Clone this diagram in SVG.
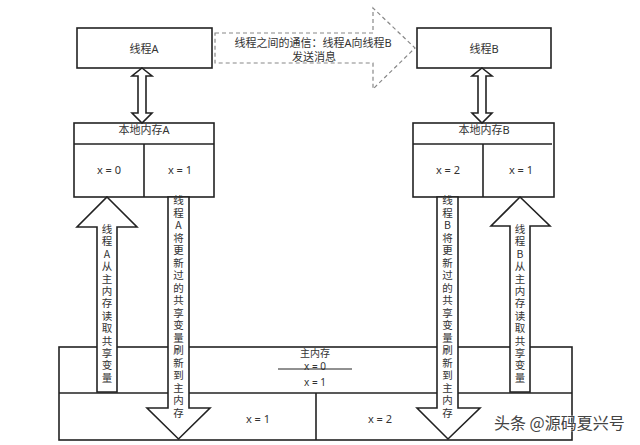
<svg xmlns="http://www.w3.org/2000/svg" width="640" height="445" viewBox="0 0 640 445">
<style>
.box{fill:#fff;stroke:#222;stroke-width:1.6}
.ln{stroke:#222;stroke-width:1.6;fill:none}
.arr{fill:#fff;stroke:#222;stroke-width:1.6;stroke-linejoin:miter}
.dash{fill:#fff;stroke:#888;stroke-width:1.2;stroke-dasharray:4 3}
.t{font-family:"Noto Sans","Noto Sans CJK SC",sans-serif;font-size:11px;fill:#333;text-anchor:middle}
.s{font-size:10px}
.v{font-family:"Noto Sans CJK SC","Noto Sans",sans-serif;font-size:10.5px;fill:#333;text-anchor:middle}
.wm{font-family:"Noto Sans CJK SC",sans-serif;font-size:16px;fill:#444;stroke:#fff;stroke-width:0.6;paint-order:stroke}
</style>
<rect width="640" height="445" fill="#fff"/>

<g id="mainMemory">
<rect class="box" x="59" y="347" width="513" height="93"/>
<line class="ln" x1="59" y1="393" x2="572" y2="393"/>
<line class="ln" x1="316" y1="393" x2="316" y2="440"/>
<text class="t s" x="315" y="357">主内存</text>
<text class="t s" x="315" y="370">x = 0</text>
<line x1="278" y1="369" x2="352" y2="369" stroke="#222" stroke-width="1"/>
<text class="t s" x="315" y="386">x = 1</text>
<text class="t" x="258" y="423">x = 1</text>
<text class="t" x="380" y="423">x = 2</text>
</g>

<g id="threadA">
<rect class="box" x="77" y="28" width="135" height="40"/>
<text class="t" x="144" y="53">线程A</text>
</g>
<g id="threadB">
<rect class="box" x="417" y="28" width="134" height="40"/>
<text class="t" x="484" y="53">线程B</text>
</g>

<g id="localA">
<rect class="box" x="74" y="123" width="140" height="74"/>
<line class="ln" x1="74" y1="144" x2="214" y2="144"/>
<line class="ln" x1="144" y1="144" x2="144" y2="197"/>
<text class="t" x="144" y="134">本地内存A</text>
<text class="t" x="109" y="174">x = 0</text>
<text class="t" x="180" y="174">x = 1</text>
</g>
<g id="localB">
<rect class="box" x="413" y="123" width="141" height="74"/>
<line class="ln" x1="413" y1="144" x2="552" y2="144"/>
<line class="ln" x1="483" y1="144" x2="483" y2="197"/>
<text class="t" x="484" y="134">本地内存B</text>
<text class="t" x="448" y="174">x = 2</text>
<text class="t" x="521" y="174">x = 1</text>
</g>

<g id="connectors">
<path class="dash" d="M215,33 H373 V8 L415,48 L373,89 V63 H215 Z"/>
<text class="t" x="313" y="47">线程之间的通信：线程A向线程B</text>
<text class="t" x="314" y="61">发送消息</text>

<path class="arr" d="M142,68 L152,76 H146 V113 H152 L142,123 L132,113 H138 V76 H132 Z"/>
<path class="arr" d="M482,68 L492,76 H486 V113 H492 L482,123 L472,113 H478 V76 H472 Z"/>

<path class="arr" d="M107,197 L137,227 H117 V392 H97 V227 H77 Z"/>
<text class="v" x="107"><tspan x="107" y="233">线</tspan><tspan x="107" y="245.4">程</tspan><tspan x="107" y="257.8">A</tspan><tspan x="107" y="270.2">从</tspan><tspan x="107" y="282.6">主</tspan><tspan x="107" y="295">内</tspan><tspan x="107" y="307.4">存</tspan><tspan x="107" y="319.8">读</tspan><tspan x="107" y="332.2">取</tspan><tspan x="107" y="344.6">共</tspan><tspan x="107" y="357">享</tspan><tspan x="107" y="369.4">变</tspan><tspan x="107" y="381.8">量</tspan></text>

<path class="arr" d="M168,197 H189 V408 H210 L178.5,439 L147,408 H168 Z"/>
<text class="v" x="178.5"><tspan x="178.5" y="204">线</tspan><tspan x="178.5" y="216.5">程</tspan><tspan x="178.5" y="229">A</tspan><tspan x="178.5" y="241.5">将</tspan><tspan x="178.5" y="254">更</tspan><tspan x="178.5" y="266.5">新</tspan><tspan x="178.5" y="279">过</tspan><tspan x="178.5" y="291.5">的</tspan><tspan x="178.5" y="304">共</tspan><tspan x="178.5" y="316.5">享</tspan><tspan x="178.5" y="329">变</tspan><tspan x="178.5" y="341.5">量</tspan><tspan x="178.5" y="354">刷</tspan><tspan x="178.5" y="366.5">新</tspan><tspan x="178.5" y="379">到</tspan><tspan x="178.5" y="391.5">主</tspan><tspan x="178.5" y="404">内</tspan><tspan x="178.5" y="416.5">存</tspan></text>

<path class="arr" d="M437,197 H458 V408 H480 L448,439 L417,408 H437 Z"/>
<text class="v" x="447.5"><tspan x="447.5" y="204">线</tspan><tspan x="447.5" y="216.5">程</tspan><tspan x="447.5" y="229">B</tspan><tspan x="447.5" y="241.5">将</tspan><tspan x="447.5" y="254">更</tspan><tspan x="447.5" y="266.5">新</tspan><tspan x="447.5" y="279">过</tspan><tspan x="447.5" y="291.5">的</tspan><tspan x="447.5" y="304">共</tspan><tspan x="447.5" y="316.5">享</tspan><tspan x="447.5" y="329">变</tspan><tspan x="447.5" y="341.5">量</tspan><tspan x="447.5" y="354">刷</tspan><tspan x="447.5" y="366.5">新</tspan><tspan x="447.5" y="379">到</tspan><tspan x="447.5" y="391.5">主</tspan><tspan x="447.5" y="404">内</tspan><tspan x="447.5" y="416.5">存</tspan></text>

<path class="arr" d="M520,197 L550,226 H530 V392 H510 V226 H491 Z"/>
<text class="v" x="520"><tspan x="520" y="233">线</tspan><tspan x="520" y="245.4">程</tspan><tspan x="520" y="257.8">B</tspan><tspan x="520" y="270.2">从</tspan><tspan x="520" y="282.6">主</tspan><tspan x="520" y="295">内</tspan><tspan x="520" y="307.4">存</tspan><tspan x="520" y="319.8">读</tspan><tspan x="520" y="332.2">取</tspan><tspan x="520" y="344.6">共</tspan><tspan x="520" y="357">享</tspan><tspan x="520" y="369.4">变</tspan><tspan x="520" y="381.8">量</tspan></text>
</g>

<text class="wm" x="494" y="429">头条 @源码夏兴号</text>
</svg>
